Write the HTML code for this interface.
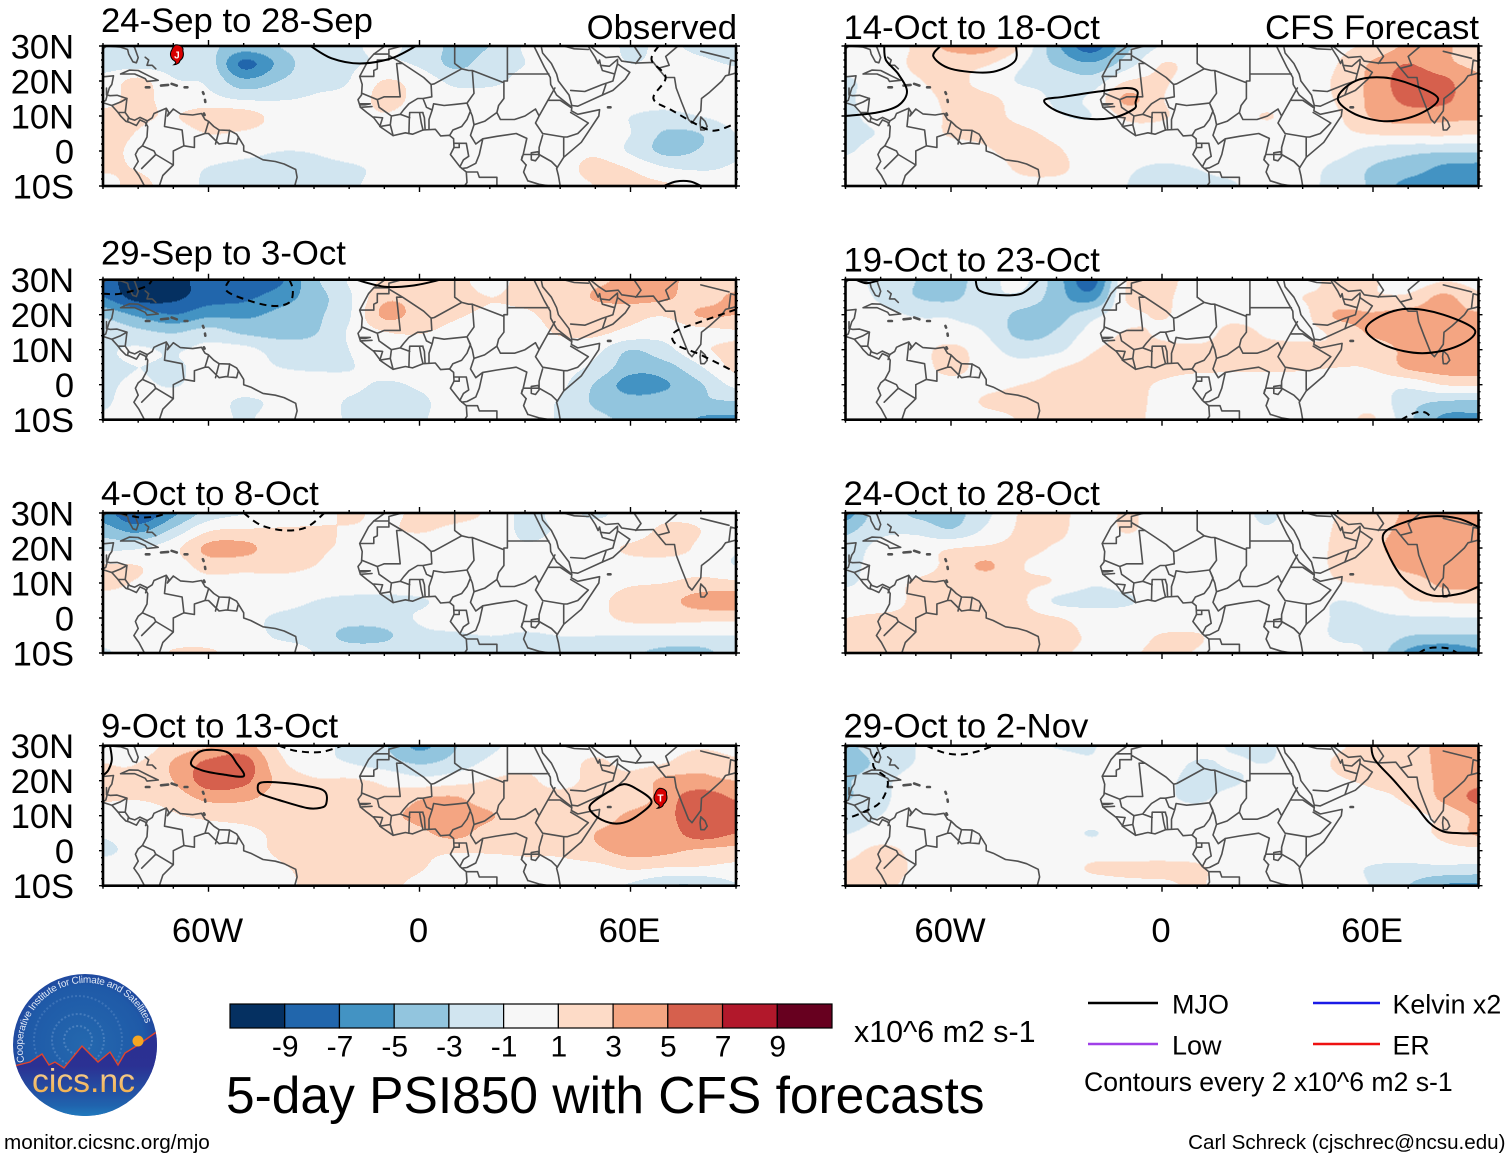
<!DOCTYPE html>
<html lang="en">
<head>
<meta charset="utf-8">
<title>5-day PSI850 with CFS forecasts</title>
<style>
html,body{margin:0;padding:0;background:#fff}
svg{display:block}
text{font-family:"Liberation Sans",sans-serif;fill:#000}
</style>
</head>
<body>
<svg id="fig" xmlns="http://www.w3.org/2000/svg" width="1510" height="1159" viewBox="0 0 1510 1159">
<defs>
<radialGradient id="logoSky" cx="50%" cy="50%" r="55%"><stop offset="0" stop-color="#2468ae"/><stop offset=".75" stop-color="#1f5aa8"/><stop offset="1" stop-color="#213f9a"/></radialGradient>
<linearGradient id="logoLand" x1="0" y1="0" x2="0" y2="1"><stop offset="0" stop-color="#2b2f91"/><stop offset=".4" stop-color="#2b3193"/><stop offset=".8" stop-color="#2063ad"/><stop offset="1" stop-color="#1f8ccb"/></linearGradient>
<linearGradient id="logoWord" x1="0" y1="0" x2="0" y2="1"><stop offset="0" stop-color="#f8d9a8"/><stop offset="1" stop-color="#f0a83c"/></linearGradient>
<path id="logoArc" d="M24.5 1062 A61 61 0 1 1 148 1031"/>
<clipPath id="logoClip"><ellipse cx="85" cy="1045" rx="72" ry="71"/></clipPath>
</defs>
<g id="panels"></g>

<g>
<ellipse cx="85" cy="1045" rx="72" ry="71" fill="url(#logoSky)"/>
<g clip-path="url(#logoClip)">
<circle cx="78" cy="1040" r="14" fill="none" stroke="#6f9bd0" stroke-width="2" stroke-dasharray="2 2" opacity=".5"/>
<circle cx="78" cy="1040" r="26" fill="none" stroke="#6f9bd0" stroke-width="2" stroke-dasharray="2 2" opacity=".45"/>
<circle cx="78" cy="1040" r="44" fill="none" stroke="#6f9bd0" stroke-width="2" stroke-dasharray="2 2" opacity=".35"/>
<polygon points="5,1068 18,1065 30,1062 42,1054 49,1065 55,1062 64,1068 82,1046 98,1062 110,1052 118,1065 125,1053 138,1045 155,1033 165,1027 165,1125 5,1125" fill="url(#logoLand)" stroke="#e2452c" stroke-width="1.4"/>
</g>
<circle cx="138" cy="1041" r="5.5" fill="#f5a623"/>
<text font-size="10" style="fill:#dfe8f5"><textPath href="#logoArc" textLength="192">Cooperative Institute for Climate and Satellites</textPath></text>
<text x="83.5" y="1092" font-size="33.7" text-anchor="middle" style="fill:url(#logoWord)">cics.nc</text>
</g>

<g id="colorbar"></g>
<text x="854" y="1042" font-size="30.4">x10^6 m2 s-1</text>
<text x="226" y="1113" font-size="51.5">5-day PSI850 with CFS forecasts</text>

<g>
<line x1="1088" x2="1158" y1="1003" y2="1003" stroke="#000" stroke-width="2.6"/>
<text x="1172" y="1013.5" font-size="27">MJO</text>
<line x1="1313" x2="1380" y1="1003" y2="1003" stroke="#1a1ae6" stroke-width="2.6"/>
<text x="1392.5" y="1013.5" font-size="26.8">Kelvin x2</text>
<line x1="1088" x2="1158" y1="1044" y2="1044" stroke="#a040e8" stroke-width="2.6"/>
<text x="1172" y="1054.5" font-size="27">Low</text>
<line x1="1313" x2="1380" y1="1044" y2="1044" stroke="#ee1111" stroke-width="2.6"/>
<text x="1392.5" y="1054.5" font-size="26.8">ER</text>
<text x="1084" y="1091" font-size="26.6">Contours every 2 x10^6 m2 s-1</text>
</g>
<text x="4" y="1149" font-size="20.7">monitor.cicsnc.org/mjo</text>
<text x="1505.5" y="1149" font-size="20.6" text-anchor="end">Carl Schreck (cjschrec@ncsu.edu)</text>
</svg>

<script>
/* ---------- axis tick data ---------- */
const latTickValues = [30, 20, 10, 0, -10];
const latTickLabels = ["30N", "20N", "10N", "0", "10S"];
const lonTickValues = [-60, 0, 60];
const lonTickLabels = ["60W", "0", "60E"];
const gridLons = [-90,-80,-70,-60,-50,-40,-30,-20,-10,0,10,20,30,40,50,60,70,80,90];
const gridLats = [30,25,20,15,10,5,0,-5,-10];

/* ---------- colour scale ---------- */
const bandLevels = [-9,-7,-5,-3,-1,1,3,5,7,9];
const bandColors = ["#053061","#2166ac","#4393c3","#92c5de","#d1e5f0","#f7f7f7","#fddbc7","#f4a582","#d6604d","#b2182b","#67001f"];

/* ---------- panel titles ---------- */
const panelTitles = ["24-Sep to 28-Sep","29-Sep to 3-Oct","4-Oct to 8-Oct","9-Oct to 13-Oct","14-Oct to 18-Oct","19-Oct to 23-Oct","24-Oct to 28-Oct","29-Oct to 2-Nov"];

/* ---------- PSI850 anomaly fields, rows by gridLats, columns by gridLons ---------- */
const fieldSep24 = [
[-1.8,-1.8,-2,-2.5,-4,-3,-1.6,-1.2,-.8,-1.5,-3.5,-3,-.8,-.4,-.4,-1.2,-.8,-1.5,-3],
[-1.8,-1.8,-1.8,-2,-7.5,-4.5,-1.6,-1.2,-.8,-1.3,-3.5,-2,-1,-.3,-.3,-1,-.6,-.6,-1.2],
[-.3,1.5,-.8,-1.3,-4.5,-3,-1.5,-1,1.1,.2,-1.5,-1.4,-.5,-.3,-.3,-.3,-.2,-.2,-.3],
[.3,1.5,.1,-.4,-1.3,-1.2,-.8,-.4,1.6,.4,-.3,-.2,-.1,0,0,-.3,-.4,-.2,0],
[1.5,1.3,.9,2,1.9,.3,0,0,.8,0,0,0,0,0,-.5,-1,-1.5,-1,-.3],
[1.6,.9,.1,1,.7,0,0,0,0,0,0,0,0,0,-.2,-1,-3.3,-3,-1],
[1.5,.6,0,0,-.5,-1,-.9,-.3,0,0,0,0,0,0,.6,-1.3,-3.5,-2.8,-1.2],
[1.2,.9,-.1,-1.1,-1.6,-1.5,-1.5,-1.3,-.6,-.2,0,0,0,.2,1.6,.9,-.8,-1.2,-.8],
[.3,1.5,-.1,-1.3,-2.4,-1.9,-1.6,-1.3,-.3,0,-.3,-.3,0,0,1,1.6,1.3,.3,-.3]];
const fieldSep29 = [
[-8,-10.5,-10,-8,-8.5,-7.5,-3.5,-.8,1.2,1.6,1.5,.4,1.5,1.5,2.5,3.5,3.5,2,1.5],
[-7,-10,-9.5,-8,-7.5,-6,-4,-1.3,2.5,2.2,1.5,1,1.3,1.5,3.2,3.6,3.3,2,3.5],
[-3.5,-5.5,-7,-5.5,-5.5,-4.5,-3.5,-1.2,3.4,2.2,1.2,.8,.8,1.5,1.6,1.6,1.2,3.2,3],
[-1.5,-2.5,-3.2,-2.2,-3.4,-3.8,-3.2,-.8,.9,1.1,.5,.3,.2,1.2,1.4,.4,-.3,.2,.8],
[-1.2,-.8,-1.2,-.5,-.5,-1.8,-2,-1,.1,.2,0,0,-.3,0,-.5,-3,-1.6,.6,1.5],
[-1.3,-1,-1.2,-.5,-.2,-1,-1.3,-1.1,-.3,-.3,-.2,-.2,-.2,-.3,-1.5,-4.2,-3.8,-1.2,1.5],
[-1.2,-.8,-1.1,-.4,-.1,-.1,-.1,-.6,-1.2,-.8,-.2,-.3,-.2,-.6,-3.2,-5.8,-5.2,-3.2,-.5],
[-1.2,-.3,-.3,-.2,-1.3,-.6,-.1,-1.2,-1.6,-1.3,-.3,-.3,-.3,-1.2,-3.3,-4.2,-4,-3.4,-3.2],
[-.8,-.2,-.1,-.1,-1.2,-.1,-.1,-1.2,-1.5,-1.2,-.2,-.2,-.2,-1.2,-2.5,-3.3,-3.2,-5.3,-5.5]];
const fieldOct4 = [
[-6,-9,-5.5,-2.2,-1.1,-.8,.3,1.2,.7,1.3,1.5,.7,-1.5,-.5,-1.3,-.3,.3,.4,-.3],
[-4,-5.5,-2.5,.8,1.2,1.3,1.2,.9,.8,1.1,.6,.1,-1.3,-.8,-.2,-.2,1.5,1,-.2],
[-1.5,-1.2,.4,3.5,3.6,1.8,1.2,.8,.2,-.1,0,0,-.8,-.3,.2,1.3,1.8,.6,-.8],
[1.2,1,.1,1.8,1.6,1.5,1,.4,0,0,0,0,-.1,0,.1,.3,.2,.3,-1],
[1.5,.8,0,.3,.3,.3,.2,.1,-.5,0,.1,.2,0,0,.2,.8,1,1.6,1.5],
[.2,0,0,0,0,-.3,-1,-1.5,-1.3,-1.2,-.3,-.1,0,0,.5,1.8,2.4,3.8,4.3],
[-.2,0,0,0,-.4,-1.3,-1.6,-2.1,-2,-.8,-.3,-.2,-.2,0,.3,1.5,1.6,1.5,1.5],
[-.5,-.1,0,-.3,-.4,-1.2,-1.6,-3.7,-3.4,-1.5,-1.3,-1,-1.2,-1,-1,-1.1,-1.1,-1.1,-1],
[-1.2,-.3,1.2,1.4,-.3,-.3,-1,-1.6,-1.8,-1.5,-2.8,-2.5,-1.5,-1.2,-1.2,-2.5,-3.8,-3.8,-1.8]];
const fieldOct9 = [
[.3,-.2,1.8,2.8,3.8,.8,-.3,-1.5,-2.8,-5.5,-3.2,-1.5,-.3,.1,.3,-.4,.1,.7,.2],
[1,1,3.2,5.5,6,1.6,-.3,-1,-2,-3.2,-2.2,-.5,.5,.3,1.3,.5,1,2.5,1.5],
[1.2,1.5,3,6,5.5,2.5,1.2,1.2,.7,-.3,.2,1.1,1.3,.5,1.5,1.5,3.5,3.5,3],
[1.2,1.1,1.8,3.5,3.4,2,1.3,1.3,1.2,2.8,3.2,1.8,1.5,1.5,1.5,1.6,4,6.2,4.8],
[-.1,-.2,.8,1.3,1.4,1.3,1.5,1.6,2.4,3.5,3.8,3.2,1.5,1.5,1.6,3.5,4.5,6.3,6.2],
[-.8,-.3,.2,.5,.8,1.2,2,1.5,1.4,2.5,3.6,2,1.3,1.2,3,4,4,6,5],
[-1.3,-.5,-.2,-.2,.5,1.2,2,1.3,1.4,1.4,1.2,1.2,1.3,1.3,2.5,3.7,3.4,2.6,2.2],
[-.3,-.2,0,-.1,0,.8,1.3,1.2,1.2,1.1,.2,-.2,.2,.3,.3,1.2,.8,.7,.4],
[-.2,0,0,0,0,.7,1.2,1.3,1.2,.7,-.3,-.2,.1,-.1,-.2,-1.3,-3,-3,-1.2]];
const fieldOct14 = [
[-.5,-.2,1.3,3.6,3.8,.7,-4.5,-8,-3.5,-.8,-.2,-.2,.8,-.1,.6,1.5,3.4,3.4,1.5],
[-.5,-.1,1.3,1.5,1.2,-.8,-3.3,-4.8,-2,1,.3,-.1,0,.2,1,3.3,5,3.5,2.5],
[-1.2,-.3,.8,1.5,.3,-1.2,-1.5,-2.2,1,1.2,.1,0,0,.3,1.3,3.6,6,5.5,3.3],
[-1.2,-.3,.2,1.4,1.4,.1,-1.2,-.6,3.4,1.1,-.1,0,0,.2,1.2,3.6,5.5,5.5,3.3],
[-1.3,-.5,-.2,1.3,1.5,.5,-.8,-1,1.4,1.2,0,.1,1.1,0,.8,3.2,4,3.6,3.3],
[-1.4,-.9,-.2,1.2,1.3,1.4,.5,-.2,.2,.1,0,0,0,0,.5,1.1,1.3,1.4,1],
[-1.2,-.3,-.1,0,.8,1.5,1.2,0,0,-.2,0,0,0,0,-.4,-1.8,-2.5,-2.8,-2.8],
[-.2,0,0,0,0,1.3,1.5,-.2,-.8,-1.3,-1,-.5,0,-.3,-1.6,-3.2,-4,-5.5,-5.8],
[-.1,-1,-1,-1,-.6,.3,.1,-.1,-1,-1.3,-1.2,-1.2,0,-.4,-1.8,-3.4,-5.8,-6,-6]];
const fieldOct19 = [
[-.5,-1.5,-3,-3.8,-1.8,-.5,-4,-8,1,1.5,.3,.1,.1,.3,1.5,1.2,-.3,.8,.3],
[-.2,-1.3,-3,-3.5,-1.5,-1.5,-4,-6,1.2,1.3,.2,.1,0,1,1.3,1.2,1.4,3.4,1.5],
[-.1,-.4,-1.2,-1.2,-1.5,-3.6,-3.8,-1.8,.4,1.1,.3,.5,.3,.5,3.3,3.2,3.7,3.7,3.2],
[0,0,-.3,-.7,-1.1,-3.7,-2.8,-.3,1.1,.8,.3,1.4,.8,.5,1.5,3.4,3.9,4.2,3.9],
[0,0,.1,1.6,-.3,-1.8,-1.5,.8,1.4,1.3,1.3,1.4,1.3,1.4,1.1,1.6,3.6,3.8,3.8],
[0,0,.1,1.6,.1,-.3,.8,1.5,1.5,1.5,1.4,1.3,1.3,1.2,1,1.2,3.3,4,4],
[0,0,0,.3,.5,1,1.4,1.5,1.4,.8,0,0,0,0,-.2,-.3,-.5,1,1.3],
[0,0,0,0,1.2,1.4,1.5,1.5,1.5,.6,0,0,0,-.1,0,.2,-2.2,-3.3,-3.5],
[0,0,0,0,.3,1.1,1.3,1.5,1.5,.5,0,0,0,0,.2,1.2,-2.5,-5.5,-5.5]];
const fieldOct24 = [
[-6,-1.8,-3.5,-3.8,-1.5,1.2,1.5,.2,1.2,.2,-.2,-.2,-1.3,.2,1,1.2,3.5,4,4],
[-3.5,-1.5,-1.5,-2.8,-.6,1.3,1.4,.1,1.1,.2,0,-.1,-.8,0,1.2,2,3.8,4,3.8],
[-2.2,-.3,.2,.9,1.3,1.4,.8,0,0,0,0,0,0,0,1.4,2.5,4,4,3.6],
[-1.6,-.2,.3,1.5,3.3,1.1,.5,0,0,0,0,0,0,0,1.3,1.4,3.8,4,3.6],
[-1.3,0,1.2,1.4,1.5,1.3,.8,-.8,-.3,0,0,0,0,0,.8,1.1,1.5,3.5,3.6],
[.1,.1,1.3,1.5,1.5,1.3,-1.3,-1.7,-1.3,0,0,0,0,0,-1,-.5,.8,1.2,1.4],
[1,1.3,1.3,1.5,1.5,1.5,1.1,.2,0,0,0,0,0,-.1,-1.2,-1.3,-1.3,-1.2,-1.2],
[1.2,1.5,1.5,1.5,1.4,1.3,1.4,.8,.3,1.1,1.1,.2,0,-.2,-1.2,-1.3,-3,-3.2,-3.2],
[1.2,1.5,1.3,1.4,1.2,1,1.2,.7,.8,1.3,.9,.1,0,0,-.5,-1.5,-5.5,-7,-5.5]];
const fieldOct29 = [
[-3.5,-1.8,-1,0,0,-.3,-1.1,-1.1,-.2,0,-.1,-1.2,-1.3,.1,.8,1.5,1.3,4,4],
[-4,-2.5,-.9,0,0,-.2,-.3,-.8,-.1,0,-1.2,-.8,-1,0,1.2,1.5,1.4,3.8,4.2],
[-3.2,-1.6,-.1,0,0,0,0,0,0,-.5,-1.6,-1.3,-.2,0,.8,1.2,1.4,3.6,4.5],
[-3.2,-1.5,0,0,-.6,-.2,0,0,0,-.6,-1.3,-.3,0,0,.2,.7,1.3,3.4,5.5],
[-1.8,-1,0,0,0,0,0,0,0,-.2,-.2,0,0,0,0,.2,.5,1.5,3.5],
[-1.1,-.3,0,0,0,0,0,-1.1,0,-.1,0,0,0,-.2,0,0,.4,1.4,3.3],
[.3,1.5,.5,0,0,0,0,0,0,0,0,0,0,-.6,0,0,0,.3,.4],
[1.3,1.6,.8,0,0,0,0,1.2,1.4,1.5,1.3,0,0,0,-.2,-1.2,-1.5,-1.5,-1.7],
[1.2,1.4,.5,0,0,0,0,0,.5,.6,1.2,0,0,0,.1,-1.2,-3,-5.2,-5.5]];
const panelFields = [fieldSep24, fieldSep29, fieldOct4, fieldOct9, fieldOct14, fieldOct19, fieldOct24, fieldOct29];

/* ---------- MJO contours: geographic vertices (lon,lat pairs), dashed = negative, closed loop or open ---------- */
const contoursSep24 = [
{dash:false,closed:false,pts:[-31,30,-25,26.5,-17,25,-8,26.5,-1,30]},
{dash:true,closed:false,pts:[68,30,66,26,70,21,66.5,15,72,11.5,81,6.5,85,6,90,8]},
{dash:false,closed:false,pts:[69.5,-10,73,-8.7,77,-8.7,80,-10]}];
const contoursSep29 = [
{dash:true,closed:false,pts:[-90,26,-85,26,-78,28,-76,30]},
{dash:true,closed:false,pts:[-54,30,-55,27,-50,24.5,-42,22.5,-37,23.5,-36,27,-37,30]},
{dash:false,closed:false,pts:[-18,30,-10,28,-2,28.3,6,30]},
{dash:true,closed:false,pts:[90,21.5,80,18,72.5,15,73,11.5,80,8.5,90,3.5]}];
const contoursOct4 = [
{dash:true,closed:false,pts:[-85,30,-80,28.8,-75,29,-72,30]},
{dash:true,closed:false,pts:[-50,30,-45,26.5,-38,25,-32,26,-27,30]}];
const contoursOct9 = [
{dash:false,closed:true,pts:[-65,25,-62,28.5,-55,28.3,-52,25,-50,21.3,-56,21.8,-62,23]},
{dash:false,closed:true,pts:[-46,18,-45,16.2,-40,14.5,-32,12.2,-28,12.3,-26.5,13.5,-27,17,-32,18.5,-40,19.5,-45,19.5]},
{dash:false,closed:true,pts:[66,14,62,17.5,58,19,54,17,48.5,13,50,10,54,8,58,8,62,10]},
{dash:true,closed:false,pts:[-40,30,-35,28.5,-28,28.2,-22,30]},
{dash:false,closed:false,pts:[-88,30,-87.5,26,-88.5,23,-90,21.5]}];
const contoursOct14 = [
{dash:false,closed:false,pts:[-79,30,-78.5,26,-75,22,-72.5,17,-75,13,-81,11,-90,10]},
{dash:false,closed:false,pts:[-63,30,-65,27,-60,23.5,-49,22.5,-42,25.5,-41.5,30]},
{dash:false,closed:true,pts:[-33.5,14.5,-30,11.5,-22,9.3,-14,9.5,-8,12,-7.5,14,-7,17,-10,18,-18,17,-28,15.5]},
{dash:false,closed:true,pts:[50,15,55,20,63,21,71,19,78.5,15,73,10.5,64,8.5,55,10.5]}];
const contoursOct19 = [
{dash:false,closed:false,pts:[-53,30,-52,27,-47,25.7,-40,26,-35,30]},
{dash:false,closed:false,pts:[-87,30,-84,29,-80,30]},
{dash:false,closed:true,pts:[58,15.5,62,19.5,70,21.7,80,20,89,15.5,84,11,74,9,64,11]},
{dash:true,closed:false,pts:[68,-10,72,-8,75,-8,77,-10]}];
const contoursOct24 = [
{dash:false,closed:false,pts:[90,26,84,28.5,76,29,68,27,63,24,64,19,68,12,73,8,78,6.3,85,7,90,9]},
{dash:true,closed:false,pts:[73,-10,76,-8.6,81,-8.6,84,-10]}];
const contoursOct29 = [
{dash:true,closed:false,pts:[-67,30,-62,28,-57,27.5,-52,28.5,-48,30]},
{dash:true,closed:false,pts:[-78,30,-81,28,-82,24,-78,20,-80,14,-85,11,-90,9]},
{dash:false,closed:false,pts:[59.5,30,60.5,26,66,20,72,13,76,8,80,5.5,85,5,90,5]}];
const panelContours = [contoursSep24, contoursSep29, contoursOct4, contoursOct9, contoursOct14, contoursOct19, contoursOct24, contoursOct29];

/* ---------- tropical cyclones: panel index, lon, lat, label ---------- */
const stormPanels = [0, 3];
const stormLons = [-69, 68.5];
const stormLats = [27.5, 15];
const stormNames = ["J", "T"];

/* ---------- base map vertices (lon,lat pairs) ---------- */
const coastLines = [
[-90,29.2,-89,30,-85,29.7,-83,29,-82.7,27.7,-81.5,25.5,-80.5,25.2,-80,26.7,-81,29.5,-81.4,30],
[-90,21.2,-87,21.5,-87.5,19,-88.2,18,-88.8,16,-88,15.8,-86,15.9,-83.2,15,-83.5,12.5,-83.7,11,-82.5,9.3,-81,8.8,-79.5,9.6,-77.4,8.6,-76,9.5,-75.5,10.7,-74.2,11.3,-72,12.2,-71.3,11,-71.7,10,-71,10.8,-70,12,-68,10.6,-64.5,10.3,-62,10.7,-61,9,-60,8.5,-58.5,7,-57,6,-54,5.9,-52,4.8,-50,1.5,-50,0,-48,-.7,-44.5,-2.5,-41,-3,-38.5,-3.7,-35.2,-5.3,-34.8,-7.5,-35.5,-10],
[-90,13.8,-87.5,13,-85.7,11,-85,10,-83.5,8.5,-82.5,8.2,-80.5,7.3,-79.5,8.9,-78,8.2,-77.3,7,-77.5,4,-78.8,1.5,-80,.5,-80.8,-1,-80,-3,-81.2,-5,-79.8,-7,-78.2,-10],
[-85,22,-82.5,23.1,-80,23,-77,21.5,-74.3,20.2,-77.5,19.9,-78,20.7,-81,22,-83,22,-85,22],
[-78,26.8,-77,26,-77.5,24.5,-76,24.5,-75,23.5],
[-9.8,30,-13,27.7,-14.5,26,-17,21.3,-16.3,19,-16.5,16,-17.5,14.7,-16.8,12.5,-15,11,-13,9.5,-11,6.8,-7.5,4.4,-4,5.2,-2,4.8,1,6,4.5,6.2,6,4.3,8.5,4.5,9.7,3.5,9.8,1,8.8,-1,11.5,-4.5,13.3,-6,13.5,-9,12.8,-10],
[40,-10,39.5,-7,39,-5,41,-1.8,46,2.5,51,10,51.2,11.8,45,10.5,43.2,11.5,43.3,12.5,39,16,37.3,19,37.2,21,35.5,24,34,27,32.6,29.9,32.5,30],
[34.7,29.5,35,28,37.5,25,39,22,39.5,20,42.5,16,43.3,13,45,12.8,52,16,55,17.3,58.5,20.5,59.8,22.5,58,23.7,56.3,24.9,56.3,26.2,54,24.2,51.5,24.5,51.2,26,50.8,25,50,26.7,48.5,29,48,30],
[48.5,30,51,28,53,26.7,56.5,27,57.5,25.7,61.5,25.1,66.5,25.3,67.5,24,70,21,72.5,21,73,18,74.5,14,76.5,9,77.5,8,78.2,9,80,11.5,80.2,15,82.5,16.8,86,20,87,21.5,89,22,90,22.3],
[80,9.7,81.2,8.5,81.8,7,81,6,80,6,79.8,8,80,9.7],
[31.8,-.5,33.8,-.2,34,-1.5,33,-2.8,31.8,-2.5,31.8,-.5],
[30.3,-4,29.6,-6,30.8,-8.5],
[29,-2.5,29.2,-1.5]];
const islandLines = [
[-73.5,18.7,-71.5,18.9],[-70.5,19.2,-69,18.7],
[-77.8,18.2,-76.8,18.2],
[-66.8,18.2,-66,18.2],
[-61.6,16.8,-61.4,16.3],[-61,14.6,-60.9,14],[-61.3,10.7,-61.1,10.3],
[53.6,12.5,54.3,12.5]];
const borderLines = [
[-13,27.7,-8.7,27.7,-8.7,29,-5,30],[-8.7,27.7,-8.7,26,-12,26,-12,23.5,-13,23,-13,21.3,-17,21.3],
[-8.7,27.3,-4.8,25,-6.5,25,-5.5,15.5,-10,15.5,-12,14.7,-16.4,16.5],
[-4.8,25,1.2,21,3.3,19,4.2,19.2,12,23.5,14,23,15,23,24,19.5,24,20,25,20,25,30],
[25,22,36.8,22],[10,30,10,25,12,23.5],
[24,19.5,24,15,22.5,13,22,11,23,9,27,9,30,10,33,12,34,10,33,8,35,5],
[15,23,15.5,16.5,13.5,13.7,14.5,11.5,13.5,9,12,7,9.5,6,8.6,4.5],
[3.3,19,3.5,15.5,1,15,2,12.5,3.6,11.7,2.7,9,2.7,6.3],[3.6,11.7,4,13.5,7,13,10,13.3,13.5,13.7],
[1.6,6.2,1.4,9.5,.9,11],[1,6,.5,8,0,11],[-3,5,-2.9,9,-2.8,11,1,11],
[1,15,-.5,15,-3,13.5,-4.5,11.8,-5.5,10.5],[-7.5,4.4,-8.3,7.5,-8,10,-5.5,10.5,-2.8,9.5],
[-12,14.7,-11.5,12.5,-8,10],[-13.5,12.7,-16.8,12.5],[-16.8,13.5,-14,13.5,-15.5,13.2,-16.8,13.2],[-11.3,7,-8.3,7.5],[-13,9.7,-10.5,9.5,-11.3,7],
[13.5,13.7,15,10,15.5,7.5,18.5,8.5,22,11],[15.5,7.5,14.5,4.5,16,2,18,3.5,22,4.2,27.5,5,30.5,3.6,29.5,-1,29,-2.5,30.3,-4],
[36.5,14.5,38.5,18],[36.5,14.5,34,10],[36.5,14.5,40,14.5,43,12.5],[43,11,48,8,45,5,42,4,41,4,41,-1.6],[35,5,41,4],[35,4.5,34,1,34,-1,37.5,-3,39.2,-4.7],
[30.8,-8.5,34,-9.5,40,-10.5],[29.5,-1,30.5,-1,34,-1],
[9.8,2.2,11.3,2.2,11.3,1,9.8,1],[11.3,2.2,13.3,2.2,14,-1.5,12.5,-2.5,11.5,-4.5],[18,3.5,17,-1,16,-3.5,13.5,-4.8,12,-5],[13.3,-6,16.5,-6,17,-7.5,22,-7.5,22,-10],
[43,17.3,47,17,52,19,55,20,55.5,22,52,23,51.5,24.5],[48,29,44,29.2,41,30],[61.5,25,63,27,61,30],[68,23.7,71,24.5,70,27,73.5,30],[88,22,88.5,26,92,25],[80,28.5,88,26.5],[52,16,53,19],[56.3,24.9,55.5,22],
[-72,12,-72.5,7,-67.5,6,-67,1.5,-70,0,-70,-4,-73,-7,-74,-10],[-60,8.3,-61,5,-60,5,-57,2,-55,2.3,-52,2,-51.5,4],[-57,6,-58,2],[-54,5.9,-54.5,2.3],[-67,1.5,-64,1,-64,4,-61,5],
[-78.8,1.5,-75.5,0,-75,-1,-78,-4,-79,-5],[-75,-1,-70,-4],[-77.4,8.6,-77.9,7.2],[-83,8.4,-82.8,9.5],[-85.7,11,-83.7,11],[-87.5,13,-85,14,-83.2,15],[-88.8,16,-89.2,14.5,-90,14],[-89,18,-89,16]];

/* ---------- helpers ---------- */
const SVGNS = "http://www.w3.org/2000/svg";
const fig = document.getElementById("panels");
const panelW = 633, panelH = 140;
const colLefts = [103, 845.5];
const rowTops = [46, 279.7, 513, 745.7];
const titleLift = [14, 15, 8, 8, 7, 8, 8, 8];
const pxPerLon = panelW / 180, pxPerLat = panelH / 40;
const lonToX = (lon, left) => left + (lon + 90) * pxPerLon;
const latToY = (lat, top) => top + (30 - lat) * pxPerLat;

function el(tag, attrs, parent) {
  const n = document.createElementNS(SVGNS, tag);
  for (const k in attrs) n.setAttribute(k, attrs[k]);
  if (parent) parent.appendChild(n);
  return n;
}
function catmull(a, b, c, d, t) {
  return 0.5 * (2 * b + (c - a) * t + (2 * a - 5 * b + 4 * c - d) * t * t + (3 * b - a - 3 * c + d) * t * t * t);
}
function sampleField(f, lon, lat) {
  const gx = (lon + 90) / 10, gy = (30 - lat) / 5;
  const i = Math.min(17, Math.max(0, Math.floor(gx))), j = Math.min(7, Math.max(0, Math.floor(gy)));
  const tx = gx - i, ty = gy - j;
  const col = q => Math.max(0, Math.min(18, q)), row = q => Math.max(0, Math.min(8, q));
  const rv = [];
  for (let m = -1; m <= 2; m++) {
    const r = f[row(j + m)];
    rv.push(catmull(r[col(i - 1)], r[col(i)], r[col(i + 1)], r[col(i + 2)], tx));
  }
  return catmull(rv[0], rv[1], rv[2], rv[3], ty);
}
function bandIndex(v) {
  let k = 0;
  while (k < bandLevels.length && v >= bandLevels[k]) k++;
  return k;
}
function geoPath(lines, left, top) {
  let d = "";
  for (const ln of lines) {
    for (let i = 0; i < ln.length; i += 2) {
      d += (i ? "L" : "M") + lonToX(ln[i], left).toFixed(1) + " " + latToY(ln[i + 1], top).toFixed(1);
    }
  }
  return d;
}
function smoothPath(pts, closed, left, top) {
  const P = [];
  for (let i = 0; i < pts.length; i += 2) P.push([lonToX(pts[i], left), latToY(pts[i + 1], top)]);
  const n = P.length, g = i => closed ? P[(i + n) % n] : P[Math.max(0, Math.min(n - 1, i))];
  let d = "M" + P[0][0].toFixed(1) + " " + P[0][1].toFixed(1);
  const segs = closed ? n : n - 1;
  for (let i = 0; i < segs; i++) {
    const p0 = g(i - 1), p1 = g(i), p2 = g(i + 1), p3 = g(i + 2);
    d += "C" + (p1[0] + (p2[0] - p0[0]) / 6).toFixed(1) + " " + (p1[1] + (p2[1] - p0[1]) / 6).toFixed(1) + " " +
         (p2[0] - (p3[0] - p1[0]) / 6).toFixed(1) + " " + (p2[1] - (p3[1] - p1[1]) / 6).toFixed(1) + " " +
         p2[0].toFixed(1) + " " + p2[1].toFixed(1);
  }
  return d + (closed ? "Z" : "");
}

/* ---------- panels ---------- */
panelTitles.forEach((title, p) => {
  const col = p < 4 ? 0 : 1, row = p % 4;
  const left = colLefts[col], top = rowTops[row];
  const g = el("g", {}, fig);
  
  

  const clip = el("clipPath", {id: "clip" + p}, g);
  el("rect", {x: left, y: top, width: panelW, height: panelH}, clip);

  /* filled PSI bands: one path per colour level, built from the gridded field */
  const f = panelFields[p];
  const bands = bandColors.map(() => "");
  for (let y = 0; y < panelH; y++) {
    const lat = 30 - (y + 0.5) / pxPerLat;
    let start = 0, cur = -1;
    for (let x = 0; x <= panelW; x++) {
      const idx = x < panelW ? bandIndex(sampleField(f, -90 + (x + 0.5) / pxPerLon, lat)) : -2;
      if (idx !== cur) {
        if (cur >= 0) bands[cur] += "M" + (left + start) + " " + (top + y) + "h" + (x - start) + "v1.4h" + (start - x) + "z";
        cur = idx; start = x;
      }
    }
  }
  const fieldG = el("g", {"clip-path": "url(#clip" + p + ")"}, g);
  
  
  bands.forEach((d, k) => {
    if (!d) return;
    const b = el("path", {d: d, fill: bandColors[k], "shape-rendering": "crispEdges"}, fieldG);
    
    
  });

  /* base map */
  const mapG = el("g", {"clip-path": "url(#clip" + p + ")", fill: "none", stroke: "#505050", "stroke-width": "1.6", "stroke-linejoin": "round", "stroke-linecap": "round"}, g);
  
  
  const coast = el("path", {d: geoPath(coastLines, left, top)}, mapG);
  
  
  const borders = el("path", {d: geoPath(borderLines, left, top)}, mapG);
  
  
  const islands = el("path", {d: geoPath(islandLines, left, top), "stroke-width": "2.6"}, mapG);
  
  

  /* MJO contours */
  const cG = el("g", {"clip-path": "url(#clip" + p + ")", fill: "none", stroke: "#000", "stroke-width": "2"}, g);
  
  
  panelContours[p].forEach(c => {
    const a = {d: smoothPath(c.pts, c.closed, left, top)};
    if (c.dash) a["stroke-dasharray"] = "7 5";
    const line = el("path", a, cG);
    
    
  });

  /* ticks */
  let tk = "";
  for (let lon = -90; lon <= 90; lon += 10) {
    const len = lonTickValues.includes(lon) ? 6 : 3, x = lonToX(lon, left);
    tk += "M" + x + " " + top + "v" + (-len) + "M" + x + " " + (top + panelH) + "v" + len;
  }
  for (let lat = -10; lat <= 30; lat += 2) {
    const len = latTickValues.includes(lat) ? 4 : 2, y = latToY(lat, top);
    tk += "M" + left + " " + y + "h" + (-len) + "M" + (left + panelW) + " " + y + "h" + len;
  }
  const ticks = el("path", {d: tk, stroke: "#000", "stroke-width": "1.4", fill: "none"}, g);
  
  

  /* frame */
  const frame = el("rect", {x: left, y: top, width: panelW, height: panelH, fill: "none", stroke: "#000", "stroke-width": "2.6"}, g);
  
  

  /* title */
  const t = el("text", {x: left - 2, y: top - titleLift[p], "font-size": 34.7}, g);
  t.textContent = title;
  
  

  /* lat labels on left column */
  if (col === 0) {
    latTickValues.forEach((lat, i) => {
      const lb = el("text", {x: 74, y: latToY(lat, top) + 12.5, "font-size": 34.5, "text-anchor": "end"}, g);
      lb.textContent = latTickLabels[i];
      
      
    });
  }
  /* lon labels on bottom row */
  if (row === 3) {
    lonTickValues.forEach((lon, i) => {
      const lb = el("text", {x: lonToX(lon, left) - 1, y: 942, "font-size": 34.7, "text-anchor": "middle"}, g);
      lb.textContent = lonTickLabels[i];
      
      
    });
  }
});

/* corner labels */
const obsLabel = el("text", {x: 737, y: 39, "font-size": 34.7, "text-anchor": "end"}, fig);
obsLabel.textContent = "Observed";


const cfsLabel = el("text", {x: 1479, y: 39, "font-size": 34.7, "text-anchor": "end"}, fig);
cfsLabel.textContent = "CFS Forecast";



/* tropical cyclone symbols */
stormPanels.forEach((p, i) => {
  const left = colLefts[p < 4 ? 0 : 1], top = rowTops[p % 4];
  const x = lonToX(stormLons[i], left), y = latToY(stormLats[i], top);
  const g = el("g", {transform: "translate(" + x + " " + y + ")"}, fig);
  
  
  el("path", {d: "M-1 -10C4 -10 7 -7 6 -4C7 -1 7 3 3 6C3 8 0 10 -3 10C0 8 -1 7 -4 5C-7 2 -7 -2 -5 -5C-4 -8 -3 -9 -1 -10Z", fill: "#d80000", stroke: "#000", "stroke-width": "1"}, g);
  const s = el("text", {x: 0, y: 3.5, "font-size": 10, "font-weight": "bold", "text-anchor": "middle", style: "fill:#fff"}, g);
  s.textContent = stormNames[i];
  
  
});

/* colour bar */
const cb = document.getElementById("colorbar");
const cbLeft = 230, cbTop = 1004, cbCell = 602 / bandColors.length, cbHeight = 24;
bandColors.forEach((c, i) => {
  const r = el("rect", {x: cbLeft + i * cbCell, y: cbTop, width: cbCell, height: cbHeight, fill: c, stroke: "#000", "stroke-width": "1.2"}, cb);
  
  
});
bandLevels.forEach((lv, i) => {
  const t = el("text", {x: cbLeft + (i + 1) * cbCell + .5, y: 1056.5, "font-size": 30, "text-anchor": "middle"}, cb);
  t.textContent = String(lv);
  
  
});
</script>
</body>
</html>
